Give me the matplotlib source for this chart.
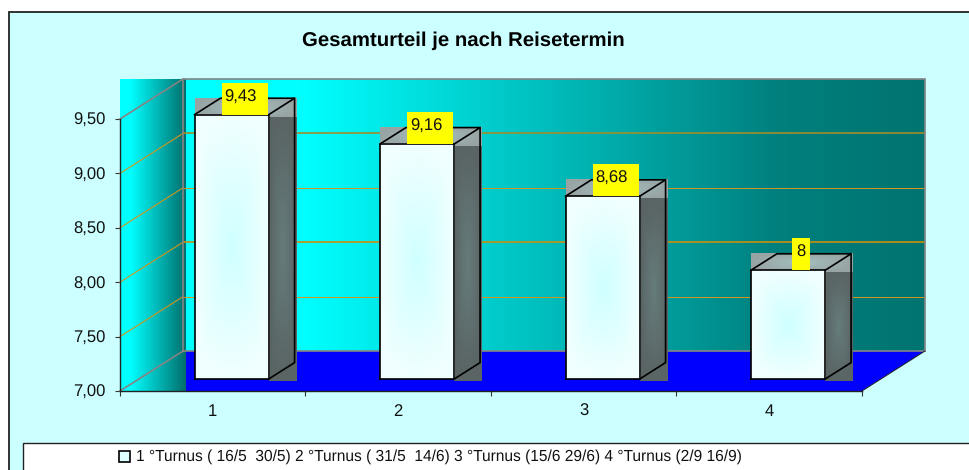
import matplotlib
matplotlib.use('Agg')
import matplotlib.pyplot as plt
import numpy as np
from matplotlib.colors import LinearSegmentedColormap
from matplotlib.patches import Rectangle, Polygon

plt.rcParams['font.family'] = ['Liberation Sans', 'DejaVu Sans']
plt.rcParams['text.hinting'] = 'no_hinting'

title = 'Gesamturteil je nach Reisetermin'
categories = ['1', '2', '3', '4']
values = [9.43, 9.16, 8.68, 8]
y_ticks = [7.0, 7.5, 8.0, 8.5, 9.0, 9.5]
y_labels = ['7,00', '7,50', '8,00', '8,50', '9,00', '9,50']
series_name = ['1 °Turnus ( 16/5  30/5)', '2 °Turnus ( 31/5  14/6)',
               '3 °Turnus (15/6 29/6)', '4 °Turnus (2/9 16/9)']

W, H = 970, 470
BG = '#CCFFFF'

fig = plt.figure(figsize=(W / 100, H / 100), dpi=100, facecolor='white')

# page background, frame and legend box live in pixel coords
page = fig.add_axes([0, 0, 1, 1], zorder=0)
page.set_xlim(0, W)
page.set_ylim(H, 0)
page.axis('off')
page.add_patch(Rectangle((9, 12), W, H, fc=BG, ec='#222222', lw=1.3))
page.add_patch(Rectangle((23, 442.5), W, 40, fc='white', ec='#222222', lw=1.0))
page.add_patch(Rectangle((119, 451), 11, 11, fc='#DDFFFF', ec='black', lw=1.2))
page.text(136, 456.5, ' '.join(series_name), fontsize=11.2, va='center', ha='left', color='#111111')
page.text(463.5, 40.5, title, fontsize=14.65, fontweight='bold', va='center', ha='center', color='black')

# plot area: front plane of the 3d box
ax = fig.add_axes([120 / W, 1 - 391 / H, 742 / W, 272 / H], zorder=1)
ax.patch.set_alpha(0)
XMAX, YMIN, YMAX = len(categories), 7.0, 9.5
PX = XMAX / 742
PY = (YMAX - YMIN) / 272
DX, DY = 63 * PX, 40 * PY


def proj(x, y, d):
    return x + d * DX, y + d * DY


def grad_h(stops):
    return LinearSegmentedColormap.from_list('g', stops)


def radial(edge, mid, x0, y0, x1, y1, z):
    yy, xx = np.mgrid[-1:1:40j, -1:1:40j]
    r = np.clip(np.maximum(abs(xx), abs(yy)) * 0.5 + np.hypot(xx, yy) * 0.5, 0, 1)
    cm = LinearSegmentedColormap.from_list('r', [mid, edge])
    ax.imshow(r, cmap=cm, vmin=0, vmax=1, extent=(x0, x1, y0, y1), aspect='auto',
              zorder=z, clip_on=False, interpolation='bilinear')


ramp = np.linspace(0, 1, 256).reshape(1, -1)
wall_cm = grad_h([(0, '#00FFFF'), (0.16, '#00FFFF'), (0.8, '#00807E'), (1, '#007470')])
side_cm = grad_h([(0, '#00FFFF'), (0.16, '#00FFFF'), (1, '#006E6C')])

# back wall
bx0, by0 = proj(0, YMIN, 1)
bx1, by1 = proj(XMAX, YMAX, 1)
ax.imshow(ramp, cmap=wall_cm, extent=(bx0, bx1, by0, by1), aspect='auto', zorder=1, clip_on=False)
# floor
ax.add_patch(Polygon([proj(0, YMIN, 0), proj(XMAX, YMIN, 0), proj(XMAX, YMIN, 1), proj(0, YMIN, 1)],
                     fc='#0000FF', ec='none', zorder=2, clip_on=False))
# left wall is a plain rectangle behind the diagonals
ax.imshow(ramp, cmap=side_cm, extent=(0, bx0 + 2 * PX, YMIN - PY, by1), aspect='auto', zorder=3, clip_on=False)

# gridlines, the source draws every other one heavier and duller
grid_w = {7.5: 0.72, 8.0: 1.2, 8.5: 0.72, 9.0: 1.2}
grid_c = {7.5: '#D0961E', 8.0: '#C8900F', 8.5: '#D0961E', 9.0: '#A08E2A'}
for t in y_ticks[1:-1]:
    ax.plot(*zip(proj(0, t, 0), proj(0, t, 1)), color='#D0961E', lw=0.8, zorder=4, clip_on=False)
    ax.plot(*zip(proj(0, t, 1), proj(XMAX, t, 1)), color=grid_c[t], lw=grid_w[t], zorder=4, clip_on=False)

# box edges
edge = dict(color='#858585', lw=1.2, zorder=5, clip_on=False, solid_joinstyle='miter')
ax.plot([bx0, bx1, bx1, bx0, bx0], [by0, by0, by1, by1, by0], **edge)
for t in (YMIN, YMAX):
    ax.plot(*zip(proj(0, t, 0), proj(0, t, 1)), **edge)
ax.plot(*zip(proj(XMAX, YMIN, 0), proj(XMAX, YMIN, 1)), color='#222222', lw=0.7, zorder=5, clip_on=False)

# bars
D0, D1 = 0.30, 0.71
BAR_W = 0.40
outline = dict(color='black', lw=1.2, zorder=9, clip_on=False, solid_joinstyle='miter')
for i, v in enumerate(values):
    xl, _ = proj(i + 0.5 - BAR_W / 2, 0, D0)
    xr = xl + BAR_W
    xb = xr + (D1 - D0) * DX
    ybot, ytop = proj(0, YMIN, D0)[1], proj(0, v, D0)[1]
    ybot_b, ytop_b = proj(0, YMIN, D1)[1], proj(0, v, D1)[1]
    lift = (D1 - D0) * DX

    # side and top pictures are rectangles, the corners show
    radial('#5A6464', '#667C7C', xr, ybot - 2 * PY, xb + 1.5 * PX, ytop - 2 * PY, 6)
    radial('#98A4A4', '#A4C0C0', xl, ytop - 2 * PY, xb + 1.5 * PX, ytop_b, 6)
    radial('#F0FFFF', '#CFFFFF', xl, ybot, xr, ytop, 7)

    ax.plot([xl, xr, xr, xl, xl], [ybot, ybot, ytop, ytop, ybot], **outline)
    ax.plot([xl, xl + lift, xb, xr], [ytop, ytop_b, ytop_b, ytop], **outline)
    ax.plot([xb, xb, xr], [ytop_b, ybot_b, ybot], **outline)

    # value label, box sits on the front edge of the top
    txt = str(v).replace('.', ',')
    box_w = (46 if len(txt) > 1 else 18) * PX
    box_h = 32 * PY
    xc = (xl + xr) / 2 + (D1 - D0) * DX / 2
    ax.add_patch(Rectangle((xc - box_w / 2, ytop), box_w, box_h, fc='#FFFF00', ec='none', zorder=10, clip_on=False))
    ax.text(xc - 4 * PX * (len(txt) > 1), ytop + box_h / 2 + 1.5 * PY, txt, fontsize=12, ha='center', va='center',
            zorder=11, color='#111111', clip_on=False)

ax.set_xlim(0, XMAX)
ax.set_ylim(YMIN, YMAX)
ax.set_xticks(range(XMAX + 1))
ax.set_xticklabels([])
ax.set_xticks(np.arange(XMAX) + 0.5, categories, minor=True, fontsize=12, color='#111111')
ax.tick_params(axis='x', which='minor', length=0, pad=9)
ax.tick_params(axis='x', which='major', length=3.5, width=0.8, color='#333333')
ax.set_yticks(y_ticks, y_labels, fontsize=12, color='#111111')
ax.tick_params(axis='y', length=3.5, width=0.8, color='#333333', pad=7)
for s in ('top', 'right'):
    ax.spines[s].set_visible(False)
for s in ('left', 'bottom'):
    ax.spines[s].set_color('#222222')
    ax.spines[s].set_linewidth(1.0)
    ax.spines[s].set_zorder(8)

fig.savefig('out.png', dpi=100, facecolor='white')
